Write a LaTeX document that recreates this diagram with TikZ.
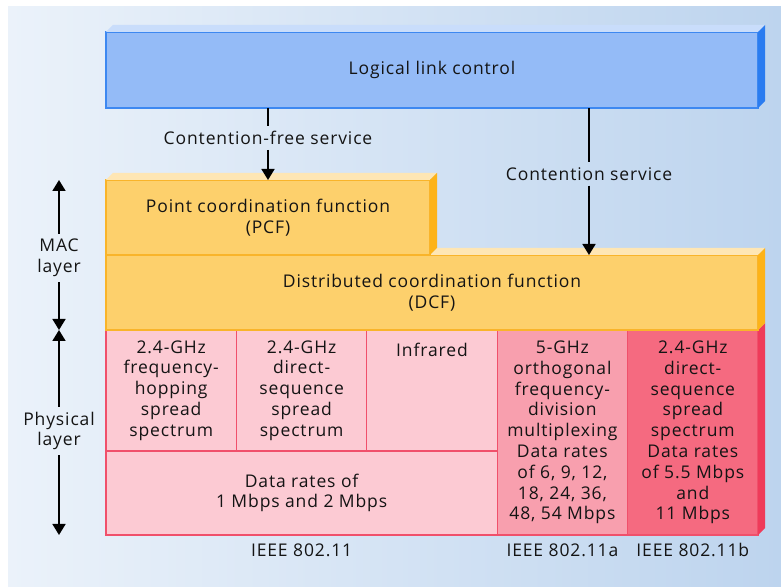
\documentclass[tikz,border=0pt]{standalone}
\usepackage{fontspec}
\setmainfont{Open Sans}[LetterSpace=5]
\usepackage{tikz}
\usetikzlibrary{positioning}
\usetikzlibrary{arrows.meta}

\definecolor{bgleft}{HTML}{EBF2FA}
\definecolor{bgright}{HTML}{BDD4EE}
\definecolor{llcfill}{HTML}{94BBF7}
\definecolor{llctop}{HTML}{C9DDFB}
\definecolor{llcside}{HTML}{2A7CF0}
\definecolor{llcedge}{HTML}{3D88F1}
\definecolor{macfill}{HTML}{FDD06C}
\definecolor{mactop}{HTML}{FEE6B4}
\definecolor{macside}{HTML}{FDB318}
\definecolor{macedge}{HTML}{F9B42A}
\definecolor{phyfill}{HTML}{FCCAD3}
\definecolor{phyfilla}{HTML}{F89FAE}
\definecolor{phyfillb}{HTML}{F56A80}
\definecolor{phyedge}{HTML}{F0506B}
\definecolor{physide}{HTML}{EF3B5A}
\definecolor{textcol}{HTML}{141414}

\begin{document}
\begin{tikzpicture}[
    x=1pt, y=1pt,
    every node/.style={font=\fontsize{17.5}{20.8}\selectfont, text=textcol},
    llcbox/.style={draw=llcedge, fill=llcfill, line width=1.2pt, minimum width=652pt, minimum height=76pt, anchor=north west, inner sep=0pt, outer sep=0pt},
    macbox/.style={draw=macedge, fill=macfill, line width=1.2pt, minimum height=75pt, anchor=north west, inner sep=0pt, outer sep=0pt, align=center},
    cell/.style={draw=phyedge, fill=phyfill, line width=1.2pt, minimum width=130.4pt, anchor=north west, inner sep=0pt, outer sep=0pt, align=center},
    lbl/.style={inner sep=0pt, align=center},
    arr/.style={line width=1.7pt, -{Triangle[length=11pt,width=13pt]}}
    ]

    \useasboundingbox (0,0) rectangle (781,588);
    \shade[left color=bgleft, right color=bgright] (8,1) rectangle (781,581);

    % physical layer
    \node[cell, minimum height=121pt] (c1) at (106,258) {2.4-GHz\\frequency-\\hopping\\spread\\spectrum};
    \node[cell, minimum height=121pt] (c2) at (c1.north east) {2.4-GHz\\direct-\\sequence\\spread\\spectrum};
    \node[cell, minimum height=121pt] (c3) at (c2.north east) {};
    \node[cell, minimum height=84pt, minimum width=391.2pt] (dr) at (c1.south west) {Data rates of\\1 Mbps and 2 Mbps};
    \node[cell, minimum height=205pt, fill=phyfilla] (c4) at (c3.north east) {5-GHz\\orthogonal\\frequency-\\division\\multiplexing\\Data rates\\of 6, 9, 12,\\18, 24, 36,\\48, 54 Mbps};
    \node[cell, minimum height=205pt, fill=phyfillb] (c5) at (c4.north east) {2.4-GHz\\direct-\\sequence\\spread\\spectrum\\Data rates\\of 5.5 Mbps\\and\\11 Mbps};
    \node[lbl, anchor=base] (irt) at ([yshift=-27pt]c3.north) {Infrared};
    \fill[physide] (c5.north east) -- ++(7,7) -- ([shift={(7,7)}]c5.south east) -- (c5.south east) -- cycle;

    \node[lbl, anchor=base] (std) at ([yshift=-22pt]dr.south) {IEEE 802.11};
    \node[lbl, anchor=base] (stda) at ([yshift=-22pt]c4.south) {IEEE 802.11a};
    \node[lbl, anchor=base] (stdb) at ([yshift=-22pt]c5.south) {IEEE 802.11b};

    % MAC layer
    \node[macbox, minimum width=652pt] (dcf) at (106,333) {Distributed coordination function\\(DCF)};
    \fill[mactop] (dcf.north west) ++(324,0) -- ++(7,7) -- ([shift={(7,7)}]dcf.north east) -- (dcf.north east) -- cycle;
    \fill[macside] (dcf.north east) -- ++(7,7) -- ([shift={(7,7)}]dcf.south east) -- (dcf.south east) -- cycle;
    \node[macbox, minimum width=324pt] (pcf) at (106,408) {Point coordination function\\(PCF)};
    \fill[mactop] (pcf.north west) -- ++(7,7) -- ([shift={(7,7)}]pcf.north east) -- (pcf.north east) -- cycle;
    \fill[macside] (pcf.north east) -- ++(7,7) -- ([shift={(7,7)}]pcf.south east) -- (pcf.south east) -- cycle;

    % LLC
    \node[llcbox] (llc) at (106,556) {Logical link control};
    \fill[llctop] (llc.north west) -- ++(7,7) -- ([shift={(7,7)}]llc.north east) -- (llc.north east) -- cycle;
    \fill[llcside] (llc.north east) -- ++(7,7) -- ([shift={(7,7)}]llc.south east) -- (llc.south east) -- cycle;

    % services
    \node[lbl, inner ysep=5pt] (cfs) at (268,450) {Contention-free service};
    \node[lbl, inner ysep=5pt] (cs) at (589,414) {Contention service};
    \draw[line width=1.7pt] (llc.south -| cfs) -- (cfs.north);
    \draw[arr] (cfs.south) -- (cfs |- pcf.north);
    \draw[line width=1.7pt] (llc.south -| cs) -- (cs.north);
    \draw[arr] (cs.south) -- (cs |- dcf.north);

    % layer marks
    \node[lbl, inner ysep=5pt] (mac) at (59,330) {MAC\\layer};
    \node[lbl, inner ysep=5pt] (phy) at (59,157) {Physical\\layer};
    \draw[arr] (mac.north) -- (mac |- pcf.north);
    \draw[arr] (mac.south) -- (mac |- dcf.south);
    \draw[arr] (phy.north) -- (phy |- dcf.south);
    \draw[arr] (phy.south) -- (phy |- dr.south);

  \end{tikzpicture}
\end{document}
